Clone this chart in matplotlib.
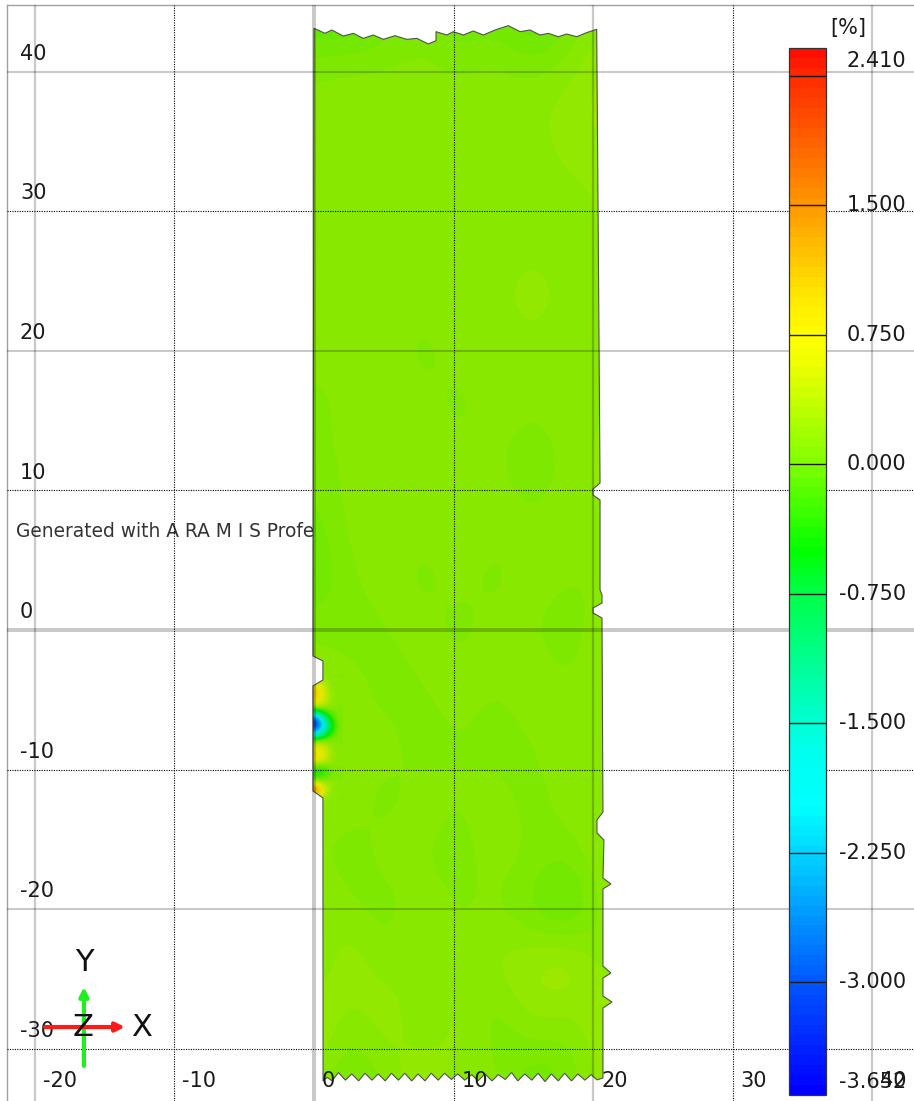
import numpy as np
import matplotlib
matplotlib.use("Agg")
import matplotlib.pyplot as plt
from matplotlib.colors import LinearSegmentedColormap, Normalize
from matplotlib.patches import Polygon, Rectangle
from matplotlib.cm import ScalarMappable
import matplotlib.transforms as mtransforms

# ---------------- data ----------------
x_ticks = [-20, -10, 0, 10, 20, 30, 40]
y_ticks = [40, 30, 20, 10, 0, -10, -20, -30]
solid_grid = [-20, 0, 20, 40]          # x grid drawn solid grey
dotted_grid = [-10, 10, 30]            # x grid drawn dotted
solid_grid_y = [40, 20, 0, -20]
dotted_grid_y = [30, 10, -10, -30]

cbar_min, cbar_max = -3.652, 2.41
cbar_label_vals = [2.41, 1.5, 0.75, 0.0, -0.75, -1.5, -2.25, -3.0, -3.652]
cbar_labels = ["2.410", "1.500", "0.750", "0.000", "-0.750", "-1.500", "-2.250", "-3.000", "-3.652"]
cbar_lines = [2.25, 1.5, 0.75, 0.0, -0.75, -1.5, -2.25, -3.0]
cmap_stops = [-3.652, -3.0, -2.25, -2.0, -1.7, -1.5, -0.75, -0.5, 0.0, 0.6, 0.75, 1.0, 1.5, 2.25, 2.41]
cmap_colors = ["#0000ff", "#005aff", "#00d7ff", "#00ffff", "#00fff0", "#00ffd2", "#00ff46", "#00ff00",
               "#7dff00", "#f0ff00", "#ffff00", "#ffe600", "#ff9b00", "#ff2d00", "#ff0f00"]

# strain field (coarse grid), rows top->bottom
field_x = [0.0, 2.6, 5.2, 7.8, 10.4, 13.0, 15.6, 18.2, 20.8]
field_y = [44, 40, 36, 32, 28, 24, 20, 16, 12, 8, 4, 0, -4, -8, -12, -16, -20, -24, -28, -32]
field_vals = [
    [-0.10, -0.15, 0.00, 0.05, -0.05, 0.00, -0.15, 0.00, 0.15],
    [0.10, 0.15, 0.10, 0.15, 0.10, 0.15, 0.10, 0.15, 0.25],
    [0.15, 0.10, 0.20, 0.10, 0.15, 0.10, 0.15, 0.20, 0.25],
    [0.10, 0.15, 0.10, 0.20, 0.10, 0.15, 0.10, 0.15, 0.15],
    [0.15, 0.10, 0.15, 0.10, 0.20, 0.10, 0.15, 0.10, 0.20],
    [0.10, 0.20, 0.10, 0.15, 0.10, 0.15, 0.20, 0.15, 0.10],
    [0.15, 0.10, 0.15, 0.05, 0.15, 0.10, 0.15, 0.10, 0.15],
    [0.05, 0.15, 0.10, 0.15, 0.05, 0.15, 0.10, 0.15, 0.15],
    [0.10, 0.10, 0.15, 0.10, 0.15, 0.10, 0.05, 0.10, 0.20],
    [0.00, 0.15, 0.10, 0.15, 0.10, 0.15, 0.10, 0.15, 0.15],
    [-0.05, 0.10, 0.15, 0.05, 0.15, 0.05, 0.15, 0.10, 0.10],
    [0.10, 0.05, 0.10, 0.15, 0.05, 0.15, 0.10, 0.05, 0.15],
    [0.15, 0.15, 0.05, 0.10, 0.15, 0.10, 0.15, 0.10, 0.15],
    [0.10, 0.10, 0.15, 0.05, 0.10, 0.05, 0.10, 0.15, 0.10],
    [0.15, 0.15, 0.05, 0.15, 0.10, 0.15, 0.05, 0.15, 0.15],
    [0.10, 0.05, 0.15, 0.10, 0.05, 0.15, 0.10, 0.05, 0.20],
    [0.20, 0.10, 0.05, 0.15, 0.10, 0.10, 0.00, -0.15, 0.15],
    [0.05, 0.25, 0.10, 0.20, 0.05, 0.20, 0.25, 0.35, 0.10],
    [0.30, 0.10, 0.25, 0.05, 0.25, 0.00, 0.20, 0.10, 0.25],
    [0.15, 0.00, 0.10, 0.25, 0.10, 0.15, -0.05, 0.05, 0.20],
]

# local defect zone at the left edge
patch_x = [0.0, 0.45, 0.9, 1.35, 1.8]
patch_y = [-3.5, -4.0, -4.5, -5.0, -5.5, -6.0, -6.5, -7.0, -7.5, -8.0, -8.5, -9.0,
           -9.5, -10.0, -10.5, -11.0, -11.5, -12.0]
patch_vals = [
    [0.3, 0.2, 0.15, 0.1, 0.1],
    [0.9, 0.6, 0.3, 0.15, 0.1],
    [1.1, 0.8, 0.4, 0.15, 0.1],
    [0.9, 0.7, 0.4, 0.15, 0.1],
    [0.4, 0.35, 0.2, 0.1, 0.1],
    [-1.6, -0.9, -0.3, 0.0, 0.1],
    [-3.4, -2.4, -1.1, -0.3, 0.1],
    [-3.1, -2.5, -1.3, -0.4, 0.1],
    [-1.9, -1.3, -0.6, -0.1, 0.1],
    [0.3, 0.3, 0.2, 0.1, 0.1],
    [0.7, 0.6, 0.4, 0.15, 0.1],
    [1.0, 0.8, 0.5, 0.2, 0.1],
    [0.5, 0.4, 0.3, 0.15, 0.1],
    [-0.4, -0.4, -0.2, 0.05, 0.1],
    [-0.3, -0.3, -0.1, 0.05, 0.1],
    [0.7, 0.5, 0.3, 0.15, 0.1],
    [1.9, 1.1, 0.4, 0.15, 0.1],
    [0.4, 0.3, 0.15, 0.1, 0.1],
]

# specimen outline (mm)
outline_x = [0.00, 0.79, 1.27, 2.10, 2.82, 3.53, 4.25, 4.97, 5.80, 6.64, 7.36, 8.19, 8.74, 8.74,
             9.51, 9.98, 10.70, 11.41, 12.13, 12.97, 13.92, 14.76, 15.47, 16.19, 16.78, 17.50,
             18.10, 18.82, 19.53, 20.25,
             20.35, 20.49, 19.99, 19.99, 20.49, 20.49, 20.63, 20.63, 19.99, 19.99, 20.63, 20.70,
             20.27, 20.27, 20.77, 20.70, 21.27, 20.70, 20.70, 21.27, 20.70, 20.70, 21.35, 20.70,
             20.70,
             20.27, 19.85, 19.40, 18.90, 18.45, 17.95, 17.50, 17.00, 16.55, 16.05, 15.60, 15.10,
             14.60, 14.15, 13.70, 13.20, 12.75, 12.25, 11.75, 11.30, 10.80, 10.30, 9.85, 9.35,
             8.90, 8.40, 7.95, 7.45, 7.00, 6.50, 6.05, 5.55, 5.10, 4.60, 4.15, 3.65, 3.20, 2.70,
             2.25, 1.75, 1.30, 0.95, 0.65,
             0.64, -0.07, -0.07, 0.64, 0.64, -0.07]
outline_y = [43.10, 42.74, 42.98, 42.55, 42.74, 42.38, 42.62, 42.31, 42.57, 42.31, 42.38, 41.98, 42.21, 42.86,
             42.62, 42.86, 42.62, 42.91, 42.62, 42.98, 43.29, 42.86, 42.98, 42.62, 42.74, 42.50,
             42.69, 42.50, 42.79, 43.03,
             30.00, 10.53, 10.10, 9.67, 9.31, 2.87, 2.51, 1.93, 1.58, 1.22, 0.86, -13.04,
             -13.61, -14.54, -15.04, -17.77, -18.19, -18.55, -24.07, -24.57, -24.93, -26.22, -26.65, -27.08,
             -32.09,
             -32.23, -31.85, -32.25, -31.80, -32.30, -31.75, -32.30, -31.80, -32.35, -31.75, -32.25, -31.80,
             -32.30, -31.70, -32.20, -31.85, -32.30, -31.80, -32.30, -31.85, -32.25, -31.80, -32.20, -31.75,
             -32.25, -31.75, -32.30, -31.80, -32.30, -31.75, -32.25, -31.75, -32.30, -31.80, -32.25, -31.75, -32.30, -31.80,
             -32.25, -31.70, -32.30, -32.05, -32.30,
             -12.03, -11.53, -4.01, -3.58, -2.22, -1.86]

# ---------------- figure ----------------
W, H = 914, 1101
fig = plt.figure(figsize=(W / 100, H / 100), dpi=100)
ax = fig.add_axes([7 / W, 0, 1 - 7 / W, (H - 5) / H])
ax.set_xticks([])
ax.set_yticks([])
for s in ["right", "bottom"]:
    ax.spines[s].set_visible(False)
for s in ["left", "top"]:
    ax.spines[s].set_color("#a0a0a0")
    ax.spines[s].set_linewidth(1.0)

cmap = LinearSegmentedColormap.from_list(
    "aramis",
    [((v - cbar_min) / (cbar_max - cbar_min), c) for v, c in zip(cmap_stops, cmap_colors)],
    N=105)
norm = Normalize(vmin=cbar_min, vmax=cbar_max)

# watermark (partly hidden by specimen)
wm = ax.text(-21.35, 7.09, "Generated with A RA M I S Professional", fontsize=13.4,
             color="#333333", va="center", ha="left", zorder=1)
wm.set_clip_path(Rectangle((-23, -40), 23, 100, transform=ax.transData))

# specimen
poly = Polygon(np.column_stack([outline_x, outline_y]), closed=True, transform=ax.transData)
dx = field_x[1] - field_x[0]
dy = field_y[0] - field_y[1]
im = ax.imshow(np.array(field_vals), cmap=cmap, norm=norm, interpolation="bicubic",
               extent=(field_x[0] - dx / 2, field_x[-1] + dx / 2, field_y[-1] - dy / 2, field_y[0] + dy / 2),
               origin="upper", aspect="auto", zorder=2)
im.set_clip_path(poly)
pdx = patch_x[1] - patch_x[0]
pdy = patch_y[0] - patch_y[1]
im2 = ax.imshow(np.array(patch_vals), cmap=cmap, norm=norm, interpolation="bicubic",
                extent=(patch_x[0] - pdx / 2, patch_x[-1] + pdx / 2, patch_y[-1] - pdy / 2, patch_y[0] + pdy / 2),
                origin="upper", aspect="auto", zorder=2.1)
im2.set_clip_path(poly)
ax.add_patch(Polygon(np.column_stack([outline_x, outline_y]), closed=True,
                     facecolor=(0, 0, 0, 0.09), edgecolor="#505050", linewidth=0.8, zorder=2.2))
ax.set_xlim(-21.99, 42.98)
ax.set_ylim(-33.74, 44.77)

# grid
for v in solid_grid:
    ax.axvline(v, color="black", alpha=0.21, lw=2.9 if v == 0 else 1.6, zorder=3)
for v in dotted_grid:
    ax.axvline(v, color="black", lw=0.8, ls=(0, (1, 1.2)), zorder=3)
for v in solid_grid_y:
    ax.axhline(v, color="black", alpha=0.21, lw=2.9 if v == 0 else 1.5, zorder=3)
for v in dotted_grid_y:
    ax.axhline(v, color="black", lw=0.8, ls=(0, (1, 1.2)), zorder=3)

# tick labels
for v in y_ticks:
    ax.text(-21.06, v + 0.85, f"{v}", fontsize=15, color="#1a1a1a", ha="left", va="baseline", zorder=4)
for v in x_ticks:
    ax.text(v + 0.57, -32.74, f"{v}", fontsize=15, color="#1a1a1a", ha="left", va="baseline", zorder=4)

# coordinate triad
ax.annotate("", xy=(-16.48, -25.57), xytext=(-16.48, -31.23),
            arrowprops=dict(arrowstyle="-|>", color="#1fef1f", lw=3.0, mutation_scale=13,
                            shrinkA=0, shrinkB=0), zorder=5)
ax.annotate("", xy=(-13.54, -28.44), xytext=(-19.27, -28.44),
            arrowprops=dict(arrowstyle="-|>", color="#ff1a1a", lw=3.0, mutation_scale=13,
                            shrinkA=0, shrinkB=0), zorder=5)
for lab, px, py in [("Y", -16.48, -23.85), ("X", -12.32, -28.51), ("Z", -16.55, -28.51)]:
    ax.text(px, py, lab, fontsize=22, color="#111111", ha="center", va="center", zorder=6)

# colorbar
cax = fig.add_axes([789 / W, (H - 1095) / H, 37 / W, 1047 / H])
cb = fig.colorbar(ScalarMappable(norm=norm, cmap=cmap), cax=cax)
cb.set_ticks([])
cb.outline.set_edgecolor("#333333")
cb.outline.set_linewidth(0.9)
cax.tick_params(length=0)
for v in cbar_lines:
    cax.axhline(v, color="#1a1a1a", lw=1.0)
blend = mtransforms.blended_transform_factory(cax.transAxes, cax.transData)
for i, (v, lab) in enumerate(zip(cbar_label_vals, cbar_labels)):
    off = 0
    if i == 0:
        off = -13
    elif i == len(cbar_label_vals) - 1:
        off = 13
    tr = mtransforms.offset_copy(blend, fig=fig, y=off, units="dots")
    fig.text(3.16, v, lab, transform=tr, fontsize=15, color="#1a1a1a", ha="right", va="center")
fig.text(848 / W, 1 - 28 / H, "[%]", fontsize=15, color="#1a1a1a", ha="center", va="center")

fig.savefig("out.png", dpi=100)
